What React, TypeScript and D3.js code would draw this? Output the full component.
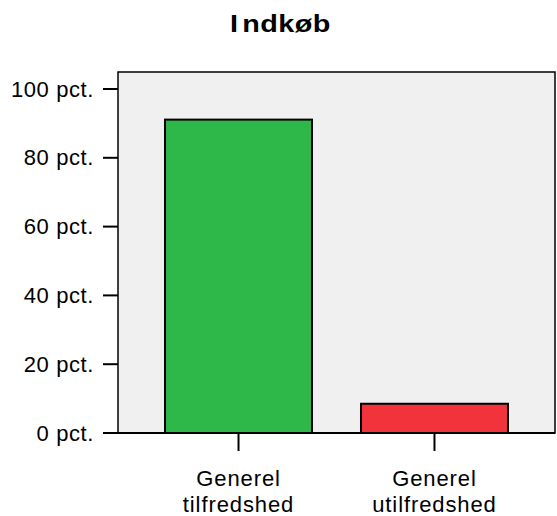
import React from 'react';
import * as d3 from 'd3';

const categories = ['Generel tilfredshed', 'Generel utilfredshed'];
const values = [91.1, 8.5];
const barColors = ['#2fb84a', '#f2333b'];
const yTicks = [0, 20, 40, 60, 80, 100];
const title = 'Indkøb';

const W = 557;
const H = 516;
const M = { top: 72, right: 2, bottom: 83, left: 118 };
const FONT = '"Liberation Sans", Arial, sans-serif';

export default function App() {
  const innerW = W - M.left - M.right;
  const innerH = H - M.top - M.bottom;

  const x = d3.scaleBand<string>()
    .domain(categories)
    .range([0, innerW])
    .paddingInner(0.25)
    .paddingOuter(0.24);

  // 100 sits ~17px below the top of the frame
  const y = d3.scaleLinear().domain([0, 100]).range([innerH, 17]);
  const y0 = y(0);

  return (
    <div style={{ position: 'absolute', left: 0, top: 0 }}>
      <svg width={W} height={H} style={{ display: 'block', background: '#fff' }}>
        <g transform="translate(280.5,31.5) scale(1.2,1)">
          <text textAnchor="middle" fontFamily={FONT} fontWeight="bold" fontSize={24}
            letterSpacing={0.4} fill="#000">
            <tspan>{title[0]}</tspan>
            <tspan dx={3}>{title.slice(1)}</tspan>
          </text>
        </g>
        <g transform={`translate(${M.left},${M.top})`}>
          <rect x={0} y={0} width={innerW} height={innerH} fill="#f0f0f0" stroke="#000" strokeWidth={1.5} />

          {categories.map((c, i) => (
            <rect key={c}
              x={x(c)!}
              y={y(values[i])}
              width={x.bandwidth()}
              height={y0 - y(values[i])}
              fill={barColors[i]}
              stroke="#000"
              strokeWidth={2} />
          ))}

          <line x1={0} x2={innerW} y1={innerH} y2={innerH} stroke="#000" strokeWidth={2} />

          {yTicks.map(t => (
            <g key={t} transform={`translate(0,${y(t)})`}>
              <line x1={-15} x2={0} stroke="#000" strokeWidth={2} />
              <text x={-24} dy={7.5} textAnchor="end" fontFamily={FONT} fontSize={22}
                letterSpacing={0.6} fill="#000">
                {t} pct.
              </text>
            </g>
          ))}

          {categories.map(c => {
            const cx = x(c)! + x.bandwidth() / 2;
            const lines = c.split(' ');
            return (
              <g key={c} transform={`translate(${cx},${innerH})`}>
                <line y1={0} y2={18} stroke="#000" strokeWidth={2} />
                {lines.map((l, j) => (
                  <text key={j} y={53 + j * 25.5} textAnchor="middle" fontFamily={FONT}
                    fontSize={22} letterSpacing={0.9} fill="#000">
                    {l}
                  </text>
                ))}
              </g>
            );
          })}
        </g>
      </svg>
    </div>
  );
}
